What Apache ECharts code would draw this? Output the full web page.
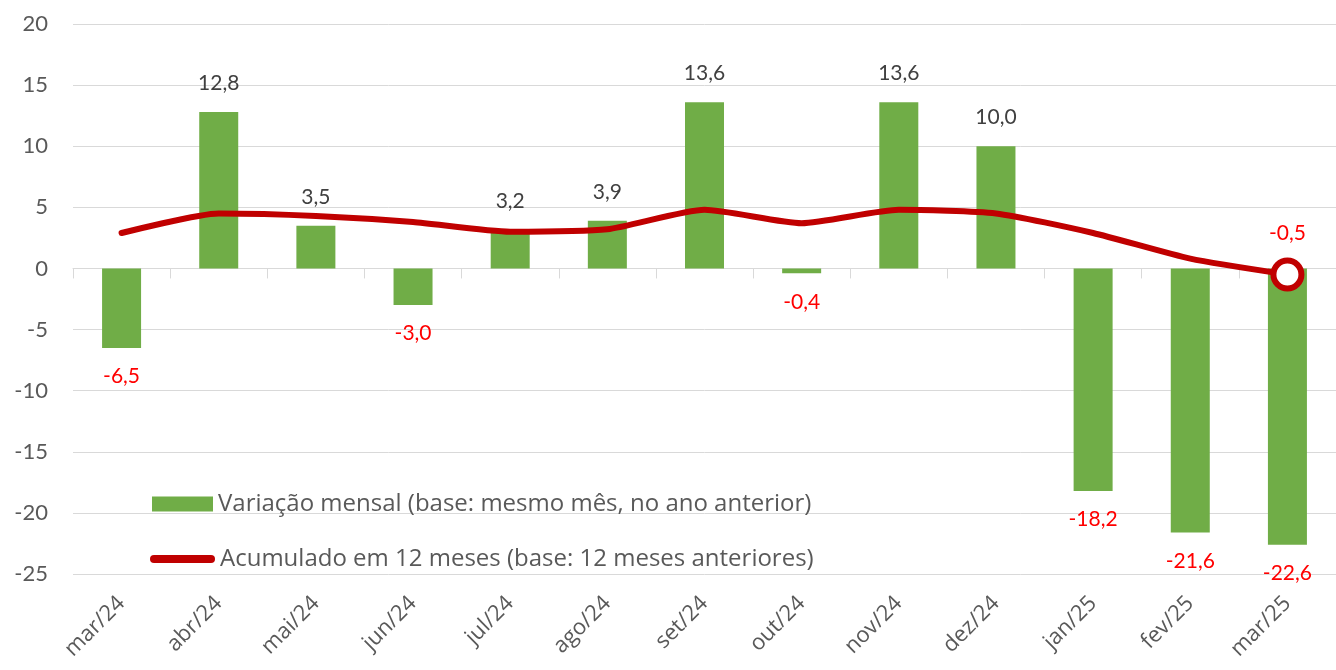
<!DOCTYPE html>
<html>
<head>
<meta charset="utf-8">
<script src="https://cdn.jsdelivr.net/npm/echarts@6/dist/echarts.min.js"></script>
<style>
  html, body { margin: 0; padding: 0; background: #fff; }
  #chart { width: 1336px; height: 670px; }
</style>
</head>
<body>
<div id="chart"></div>
<script>
const months = ['mar/24', 'abr/24', 'mai/24', 'jun/24', 'jul/24', 'ago/24', 'set/24',
  'out/24', 'nov/24', 'dez/24', 'jan/25', 'fev/25', 'mar/25'];
const monthly = [-6.5, 12.8, 3.5, -3.0, 3.2, 3.9, 13.6, -0.4, 13.6, 10.0, -18.2, -21.6, -22.6];
const accum12 = [2.9, 4.5, 4.3, 3.8, 3.0, 3.2, 4.8, 3.7, 4.8, 4.5, 2.9, 0.8, -0.5];
const yTicks = { min: -25, max: 20, interval: 5 };

const barName = 'Variação mensal (base: mesmo mês, no ano anterior)';
const lineName = 'Acumulado em 12 meses (base: 12 meses anteriores)';

const FONT = 'Lato';
const WIDE = 'Open Sans';
const GREY = '#595959';
const RED = '#FF0000';
const DARKRED = '#C00000';
const GREEN = '#70AD47';

const fmt = v => v.toFixed(1).replace('.', ',');

const chart = echarts.init(document.getElementById('chart'));

// negative bars get red labels below, positive ones grey above
const barData = monthly.map(v => ({
  value: v,
  label: v < 0
    ? { position: 'bottom', color: RED }
    : { position: 'top', color: '#404040' }
}));

// only the last point of the line gets a marker and a label
const last = accum12.length - 1;
const lineData = accum12.map((v, i) => i === last ? {
  value: v,
  symbol: 'circle',
  symbolSize: 28,
  itemStyle: { color: '#fff', borderColor: DARKRED, borderWidth: 6 },
  label: {
    show: true, position: 'top', distance: 14,
    fontFamily: FONT, fontSize: 21, color: RED,
    formatter: p => fmt(p.value)
  }
} : v);

const options = {
  animation: false,
  grid: { left: 73, top: 24, width: 1278, height: 550 },
  legend: [
    {
      data: [barName],
      left: 147, top: 487,
      icon: 'rect',
      itemWidth: 61, itemHeight: 15,
      textStyle: { fontFamily: WIDE, fontSize: 24, color: GREY }
    },
    {
      data: [lineName],
      left: 145, top: 542,
      icon: 'path://M4,0 L61,0 A4,4 0 0 1 61,8 L4,8 A4,4 0 0 1 4,0 Z',
      itemWidth: 65, itemHeight: 8,
      textStyle: { fontFamily: WIDE, fontSize: 24, color: GREY }
    }
  ],
  xAxis: [
    {
      type: 'category',
      data: months,
      axisLine: { onZero: true, lineStyle: { color: '#D9D9D9', width: 1 } },
      axisTick: { show: true, length: 10, lineStyle: { color: '#D9D9D9' } },
      axisLabel: { show: false },
      splitLine: { show: false }
    },
    {
      type: 'category',
      data: months,
      position: 'bottom',
      axisLine: { show: false, onZero: false },
      axisTick: { show: false },
      axisLabel: {
        rotate: 45,
        margin: 26,
        fontFamily: WIDE, fontSize: 22, color: GREY
      }
    }
  ],
  yAxis: {
    type: 'value',
    min: yTicks.min, max: yTicks.max, interval: yTicks.interval,
    axisLine: { show: false },
    axisTick: { show: false },
    axisLabel: { margin: 25, fontFamily: FONT, fontSize: 22, color: GREY },
    splitLine: { lineStyle: { color: '#D9D9D9', width: 1 } }
  },
  series: [
    {
      name: barName,
      type: 'bar',
      xAxisIndex: 0,
      barWidth: 39,
      itemStyle: { color: GREEN },
      label: {
        show: true,
        distance: 18,
        fontFamily: FONT, fontSize: 21,
        formatter: p => fmt(p.value)
      },
      data: barData
    },
    {
      name: lineName,
      type: 'line',
      xAxisIndex: 0,
      smooth: 0.2,
      symbol: 'none',
      showSymbol: true,
      lineStyle: { color: DARKRED, width: 6, cap: 'round' },
      itemStyle: { color: DARKRED },
      z: 3,
      data: lineData
    }
  ]
};

chart.setOption(options);
</script>
</body>
</html>
